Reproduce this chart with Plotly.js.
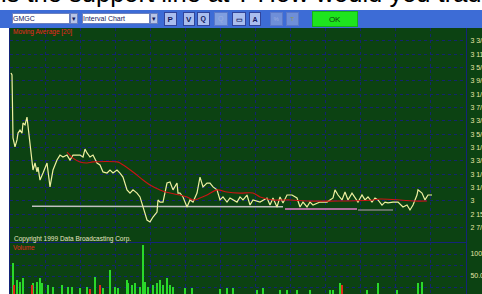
<!DOCTYPE html>
<html><head><meta charset="utf-8">
<script src="https://cdn.plot.ly/plotly-3.0.1.min.js"></script>
<style>html,body{margin:0;padding:0;background:#fff;overflow:hidden}#chart{width:482px;height:294px}</style>
</head><body><div id="chart"></div>
<script>
// ---- data (time in minutes from chart start, price in dollars) ----
const priceTime = [1,2,3,5,7,8,10,12,13,15,
  17,18,20,22,23,25,27,28,30,33,
  37,40,43,47,50,53,57,60,63,67,
  70,73,75,77,80,83,85,87,90,93,
  97,100,103,107,110,113,117,120,123,127,
  130,133,135,137,140,143,147,148,150,153,
  157,160,163,167,168,170,173,177,180,183,
  187,190,193,197,200,203,207,210,213,217,
  220,223,227,230,233,237,240,243,250,257,
  260,263,267,270,273,277,282,287,290,293,
  297,300,303,310,317,323,325,328,332,335,
  338,342,345,348,352,355,358,362,365,368,
  372,375,378,383,388,393,397,400,403,407,
  408,412,415,418,422];
const price = [3.599,3.590,3.295,3.253,3.286,3.318,3.332,3.318,3.365,3.356,
  3.393,3.346,3.272,3.192,3.145,3.178,3.136,3.159,3.098,3.131,
  3.178,3.066,3.145,3.192,3.215,3.206,3.215,3.192,3.215,3.215,
  3.215,3.206,3.243,3.225,3.206,3.215,3.192,3.178,3.169,3.136,
  3.131,3.145,3.131,3.145,3.131,3.112,3.052,3.037,3.052,3.037,
  3.019,2.972,2.948,2.911,2.902,2.925,2.948,3.005,2.995,2.995,
  3.084,3.089,3.052,3.084,3.037,3.037,3.019,2.972,3.005,2.995,
  3.037,3.112,3.066,3.084,3.084,3.066,3.052,3.005,3.019,2.995,
  3.014,3.005,2.995,3.019,3.005,3.028,2.981,3.005,2.995,3.014,
  2.981,3.014,2.972,3.019,2.991,3.028,3.028,3.014,2.972,2.995,
  2.972,2.995,2.981,2.995,2.995,3.014,3.052,3.028,3.005,3.042,
  3.005,3.037,3.014,2.995,3.028,3.005,3.019,2.995,3.014,3.005,
  2.981,2.995,2.991,2.995,2.995,2.972,2.981,2.958,2.981,3.028,
  3.052,3.037,3.005,3.028,3.028];
const maTime = [57,63,70,77,83,107,110,123,133,140,150,160,170,177,183,190,197,207,217,230,243,250,263,280,297,330,363,370,390,403,417];
const movingAvg = [3.229,3.201,3.183,3.178,3.183,3.183,3.178,3.136,3.098,3.075,3.052,3.037,3.028,3.019,3.005,3.014,3.028,3.052,3.042,3.037,3.037,3.019,3.005,3.005,3.000,3.000,3.005,3.009,3.005,3.000,3.000];
const supportTime1 = [22, 273];
const support1 = [2.975, 2.973];
const supportTime2 = [275, 347];
const support2 = [2.963, 2.963];
const supportTime3 = [348, 383];
const support3 = [2.958, 2.958];
const volGreenTime = [3,7,10,13,23,27,30,32,38,43,52,58,62,70,77,85,93,100,105,108,117,118,122,125,130,133,135,138,143,147,150,153,157,160,163,175,182,210,217,223,247,253,270,277,287,300,320,323,330,357,368,387,408,412];
const volGreen = [80,41,36,45,34,36,45,34,30,25,30,25,25,23,25,48,23,64,25,23,41,34,30,34,25,120,36,25,30,34,41,30,45,30,25,23,23,20,23,23,18,23,18,18,18,18,18,18,34,18,34,18,34,36];
const volRedTime = [4,22,80,90,332];
const volRed = [30,30,20,30,30];
const priceTickVals = [2.875,2.9375,3,3.0625,3.125,3.1875,3.25,3.3125,3.375,3.4375,3.5,3.5625,3.625,3.6875,3.75];
const priceTickText = ["2 7/8","2 15/16","3","3 1/16","3 1/8","3 3/16","3 1/4","3 5/16","3 3/8","3 7/16","3 1/2","3 9/16","3 5/8","3 11/16","3 3/4"];
const volTickVals = [25,50,75,100];
const volTickText = ["","50.0","","100.0"];

// ---- styling ----
const W = 482, H = 294;
const px = x => x / W, py = y => 1 - y / H;
const GREEN = '#0c4212', GRID = '#132372', AXIS = '#14247a';
const FONT = 'Liberation Sans, Arial, sans-serif';
const LABEL = '#e6e6a6';

const traces = [
  {x: supportTime1, y: support1, type:'scatter', mode:'lines', line:{color:'#c0c0c0', width:1.5}, xaxis:'x', yaxis:'y'},
  {x: supportTime2, y: support2, type:'scatter', mode:'lines', line:{color:'#e07cc8', width:1.5}, xaxis:'x', yaxis:'y'},
  {x: supportTime3, y: support3, type:'scatter', mode:'lines', line:{color:'#808080', width:1.5}, xaxis:'x', yaxis:'y'},
  {x: priceTime, y: price, type:'scatter', mode:'lines', line:{color:'#eef0a0', width:1.2}, xaxis:'x', yaxis:'y'},
  {x: maTime, y: movingAvg, type:'scatter', mode:'lines', line:{color:'#cc1414', width:1.1, shape:'spline'}, xaxis:'x', yaxis:'y'},
  {x: volGreenTime, y: volGreen, type:'bar', width:1.3, marker:{color:'#2ad82a', line:{width:0}}, xaxis:'x2', yaxis:'y2'},
  {x: volRedTime, y: volRed, type:'bar', width:1.3, marker:{color:'#e02a1a', line:{width:0}}, xaxis:'x2', yaxis:'y2'}
];

function box(x0, y0, x1, y1, bg, text, size, color, border, align) {
  return {xref:'paper', yref:'paper', x:px(x0), y:py(y0), xanchor:'left', yanchor:'top',
    width: x1 - x0 - 2, height: y1 - y0 - 2, bgcolor: bg, bordercolor: border || bg,
    borderwidth: 1, borderpad: 0, text: text || '\u00a0', showarrow: false,
    align: align || 'center', valign: 'middle',
    font: {family: FONT, size: size || 7, color: color || '#101860'}};
}
function label(x, y, text, size, color) {
  return {xref:'paper', yref:'paper', x:px(x), y:py(y), xanchor:'left', yanchor:'middle',
    text, showarrow:false, borderpad:0, font:{family:FONT, size, color}};
}
const BTN = '#a9bdee', BTNB = '#31449a';
const annotations = [
  {xref:'paper', yref:'paper', x:px(-1), y:py(9), xanchor:'left', yanchor:'bottom',
   text:'is the support line at ? How would you trade', showarrow:false,
   font:{family:FONT, size:25.5, color:'#000'}},
  box(0, 10, 482, 28, '#3d6cd6'),
  box(12, 13, 70, 24, '#ffffff', 'GMGC', 7, '#101860', '#6a7fc0', 'left'),
  box(70, 13, 78, 24, '#b8c4e6', '▾', 7, '#101860', '#6a7fc0'),
  box(82, 13, 150, 24, '#ffffff', 'Interval Chart', 7, '#101860', '#6a7fc0', 'left'),
  box(150, 13, 158, 24, '#b8c4e6', '▾', 7, '#101860', '#6a7fc0'),
  box(164, 12, 177, 26, BTN, '<b>P</b>', 8, '#101860', BTNB),
  box(183, 12, 195, 26, BTN, '<b>V</b>', 8, '#101860', BTNB),
  box(197, 12, 210, 26, BTN, '<b>Q</b>', 7, '#101860', BTNB),
  box(214, 12, 228, 26, '#7f9ee0', 'Q', 7, '#9aaee0', '#5a78c8'),
  box(232, 12, 246, 26, BTN, '<b>▭</b>', 7, '#101860', BTNB),
  box(249, 12, 261, 26, BTN, '<b>A</b>', 7, '#101860', BTNB),
  box(270, 12, 283, 26, '#6f8fd8', '%', 6, '#9aaee0', '#5a78c8'),
  box(286, 12, 299, 26, '#6f8fd8', 'T', 6, '#8a9a50', '#5a78c8'),
  box(312, 11, 358, 27, '#1ee41e', 'OK', 8, '#0c400c', '#16b016'),
  label(12, 32, 'Moving Average [20]', 6.5, '#e8281c'),
  label(13, 239, 'Copyright 1999 Data Broadcasting Corp.', 6.5, '#e6e6c0'),
  label(12, 247, 'Volume', 6.5, '#e8281c')
];

const xBase = {range:[0,456], tick0:0, dtick:35, showgrid:true, gridcolor:GRID, griddash:'3px,3px', gridwidth:1,
  showticklabels:false, ticks:'', zeroline:false, showline:true, linecolor:AXIS, linewidth:1, fixedrange:true};
const yBase = {side:'right', showgrid:true, gridcolor:GRID, griddash:'3px,3px', gridwidth:1, zeroline:false,
  showline:true, mirror:true, linecolor:AXIS, linewidth:1, ticks:'', ticklabelstandoff:2,
  tickfont:{family:FONT, size:7, color:LABEL}, fixedrange:true};

const layout = {
  width: W, height: H, margin:{l:0, r:0, t:0, b:0, pad:0},
  paper_bgcolor:'#ffffff', plot_bgcolor:'rgba(0,0,0,0)', showlegend:false, bargap:0,
  xaxis: Object.assign({}, xBase, {domain:[px(10), px(466)], anchor:'y'}),
  xaxis2: Object.assign({}, xBase, {domain:[px(10), px(466)], anchor:'y2', matches:'x'}),
  yaxis: Object.assign({}, yBase, {domain:[py(242), py(28)], range:[2.808, 3.81], anchor:'x',
    tickmode:'array', tickvals:priceTickVals, ticktext:priceTickText}),
  yaxis2: Object.assign({}, yBase, {domain:[0, py(242)], range:[9.09, 127.3], anchor:'x2',
    tickmode:'array', tickvals:volTickVals, ticktext:volTickText}),
  shapes: [{type:'rect', xref:'paper', yref:'paper', x0:px(10), x1:1, y0:0, y1:py(28),
    fillcolor:GREEN, line:{width:0}, layer:'below'}],
  annotations
};
Plotly.newPlot('chart', traces, layout, {staticPlot:true, displayModeBar:false});
</script>
</body></html>
